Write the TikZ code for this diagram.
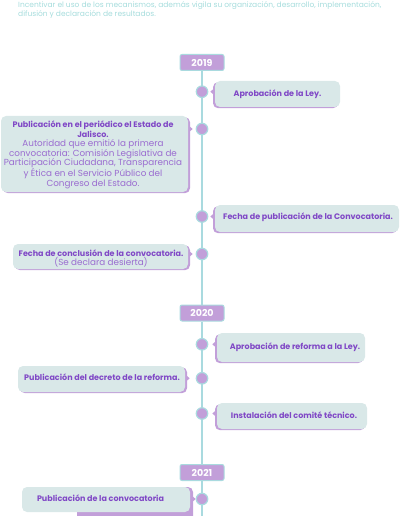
\documentclass[tikz,border=0pt]{standalone}
\usepackage{fontspec}
\setmainfont{Poppins}
\usetikzlibrary{shadows}
\definecolor{cardfill}{HTML}{D9E8E8}
\definecolor{lav}{HTML}{C29FD9}
\definecolor{tealline}{HTML}{A9DADF}
\definecolor{txtpurple}{HTML}{8048C6}
\definecolor{txtlight}{HTML}{9A6CD0}
\definecolor{toptxt}{HTML}{A5DCDC}
\newcommand{\regtxt}[1]{{\mdseries\fontsize{8.8}{9.4}\selectfont\color{txtlight}#1}}
\begin{document}
\begin{tikzpicture}[x=1pt,y=-1pt,
  card/.style={fill=cardfill, rounded corners=5pt, draw=none, inner sep=0pt},
  rcard/.style={card, drop shadow={shadow xshift=-2pt, shadow yshift=-1.2pt, opacity=1, fill=lav}},
  lcard/.style={card, drop shadow={shadow xshift=2pt, shadow yshift=-1.2pt, opacity=1, fill=lav}},
  lbl/.style={text=txtpurple, font=\bfseries\fontsize{8}{9.4}\selectfont, inner sep=0pt, align=center},
  dot/.style={circle, fill=lav, draw=tealline, line width=1.2pt, minimum size=11.5pt, inner sep=0pt},
  yearbox/.style={fill=lav, draw=tealline, line width=1pt, rounded corners=2pt, minimum width=44pt, minimum height=16pt, inner sep=0pt, text=white, font=\bfseries\fontsize{9.5}{9.5}\selectfont},
  tl/.style={draw=tealline, line width=1.3pt},
  ptr/.style={fill=lav}
]
\useasboundingbox (0,0) rectangle (400,516);

% top text
\node[anchor=west, inner sep=0pt, text=toptxt, font=\fontsize{7.5}{8.8}\selectfont, align=left] (top) at (18,10)
  {Incentivar el uso de los mecanismos, además vigila su organización, desarrollo, implementación,\\difusión y declaración de resultados.};

% year boxes
\node[yearbox] (y19) at (202,62.5) {2019};
\node[yearbox] (y20) at (202,313) {2020};
\node[yearbox] (y21) at (202,472.5) {2021};
\coordinate (bottom) at (202,516);

% timeline
\draw[tl] (y19.south) -- (y20.north);
\draw[tl] (y20.south) -- (y21.north);
\draw[tl] (y21.south) -- (bottom);

% dots
\node[dot] (c1) at (202,91.7) {};
\node[dot] (c2) at (202,129) {};
\node[dot] (c3) at (202,216.5) {};
\node[dot] (c4) at (202,254) {};
\node[dot] (c5) at (202,344.3) {};
\node[dot] (c6) at (202,378.3) {};
\node[dot] (c7) at (202,413.5) {};
\node[dot] (c8) at (202,499) {};

% cards
\node[rcard, minimum width=125pt, minimum height=26pt] (bA) at (277.5,94) {};
\node[lcard, minimum width=187pt, minimum height=76pt] (bB) at (94.5,154) {};
\node[rcard, minimum width=184pt, minimum height=27pt] (bC) at (307,218.5) {};
\node[lcard, minimum width=175pt, minimum height=25pt] (bD) at (100.5,256.5) {};
\node[rcard, minimum width=148pt, minimum height=29pt] (bE) at (291,347.5) {};
\node[lcard, minimum width=167pt, minimum height=26pt] (bF) at (101.5,379) {};
\node[rcard, minimum width=150pt, minimum height=26pt] (bG) at (292,416) {};
\fill[lav, rounded corners=5pt] (77,487) rectangle (193,522);
\node[card, minimum width=168pt, minimum height=25pt] (bH) at (106,499.5) {};

% pointers
\fill[ptr] (bA.west |- c1) ++(-1,-3) -- ++(-3.5,3) -- ++(3.5,3) -- cycle;
\fill[ptr] (bB.east |- c2) ++(1,-3) -- ++(3.5,3) -- ++(-3.5,3) -- cycle;
\fill[ptr] (bC.west |- c3) ++(-1,-3) -- ++(-3.5,3) -- ++(3.5,3) -- cycle;
\fill[ptr] (bD.east |- c4) ++(1,-3) -- ++(3.5,3) -- ++(-3.5,3) -- cycle;
\fill[ptr] (bE.west |- c5) ++(-1,-3) -- ++(-3.5,3) -- ++(3.5,3) -- cycle;
\fill[ptr] (bF.east |- c6) ++(1,-3) -- ++(3.5,3) -- ++(-3.5,3) -- cycle;
\fill[ptr] (bG.west |- c7) ++(-1,-3) -- ++(-3.5,3) -- ++(3.5,3) -- cycle;
\fill[ptr] (bH.east |- c8) ++(2,-3) -- ++(3.5,3) -- ++(-3.5,3) -- cycle;

% texts
\node[lbl] (tA) at (277.5,94) {Aprobación de la Ley.};
\node[lbl] (tB) at (93,155) {Publicación en el periódico el Estado de\\Jalisco.\\
  \regtxt{Autoridad que emitió la primera}\\
  \regtxt{convocatoria: Comisión Legislativa de}\\
  \regtxt{Participación Ciudadana, Transparencia}\\
  \regtxt{y Ética en el Servicio Público del}\\
  \regtxt{Congreso del Estado.}};
\node[lbl] (tC) at (308,217.7) {Fecha de publicación de la Convocatoria.};
\node[lbl] (tD) at (101,258.5) {Fecha de conclusión de la convocatoria.\\\regtxt{(Se declara desierta)}};
\node[lbl] (tE) at (295,347.7) {Aprobación de reforma a la Ley.};
\node[lbl] (tF) at (102,377.3) {Publicación del decreto de la reforma.};
\node[lbl] (tG) at (294,415) {Instalación del comité técnico.};
\node[lbl] (tH) at (100.5,498.3) {Publicación de la convocatoria};
\end{tikzpicture}
\end{document}
